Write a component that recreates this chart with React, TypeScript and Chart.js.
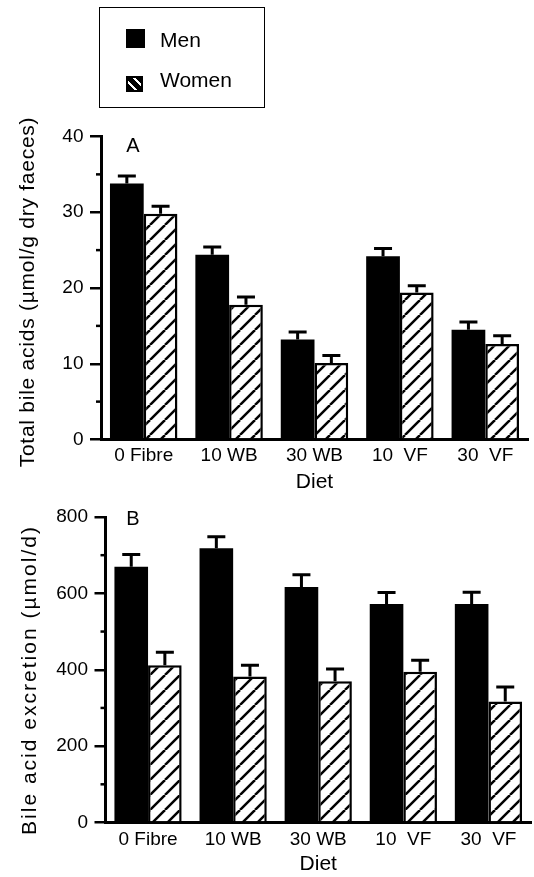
import React, { useEffect, useRef } from 'react';
import { Chart, registerables } from 'chart.js';

Chart.register(...registerables);

const FONT = '"Liberation Sans", Arial, Helvetica, sans-serif';

// ---- data ----
const dietLabels = ['0 Fibre', '10 WB', '30 WB', '10  VF', '30  VF'];

const menTotal = [33.8, 24.4, 13.2, 24.2, 14.5];
const menTotalSE = [1.0, 1.0, 1.0, 1.0, 1.0];
const womenTotal = [29.8, 17.8, 10.1, 19.4, 12.6];
const womenTotalSE = [1.0, 1.0, 1.0, 0.9, 1.1];
const totalTicks = [0, 10, 20, 30, 40];
const totalMinorTicks = [5, 15, 25, 35];

const menExcretion = [670, 718, 617, 572, 572];
const menExcretionSE = [32, 30, 32, 30, 31];
const womenExcretion = [412, 382, 370, 395, 317];
const womenExcretionSE = [34, 30, 32, 30, 38];
const excretionTicks = [0, 200, 400, 600, 800];
const excretionMinorTicks = [100, 300, 500, 700];

function makeHatch(ctx: CanvasRenderingContext2D): CanvasPattern | string {
  const s = 15;
  const c = document.createElement('canvas');
  c.width = s;
  c.height = s;
  const g = c.getContext('2d');
  if (!g) return '#fff';
  g.fillStyle = '#fff';
  g.fillRect(0, 0, s, s);
  g.strokeStyle = '#000';
  g.lineWidth = 2.5;
  for (const k of [-1, 0, 1]) {
    g.beginPath();
    g.moveTo(k * s, s);
    g.lineTo(k * s + s, 0);
    g.stroke();
  }
  return ctx.createPattern(c, 'repeat') || '#fff';
}

const errorBarPlugin = {
  id: 'errorBars',
  afterDatasetsDraw(chart: any) {
    const ctx = chart.ctx as CanvasRenderingContext2D;
    const yScale = chart.scales.y;
    chart.data.datasets.forEach((ds: any, i: number) => {
      const meta = chart.getDatasetMeta(i);
      const errs: number[] = ds.errors || [];
      meta.data.forEach((bar: any, j: number) => {
        const v = ds.data[j] as number;
        const top = yScale.getPixelForValue(v + errs[j]);
        ctx.save();
        ctx.strokeStyle = '#000';
        ctx.lineWidth = 3;
        ctx.beginPath();
        ctx.moveTo(bar.x, bar.y);
        ctx.lineTo(bar.x, top);
        ctx.moveTo(bar.x - 9, top);
        ctx.lineTo(bar.x + 9, top);
        ctx.stroke();
        ctx.restore();
      });
    });
  },
};

const decorPlugin = {
  id: 'decor',
  afterDraw(chart: any, _args: any, opts: any) {
    const ctx = chart.ctx as CanvasRenderingContext2D;
    const yScale = chart.scales.y;
    const left = chart.chartArea.left;
    ctx.save();
    // minor ticks
    ctx.strokeStyle = '#000';
    ctx.lineWidth = 2.5;
    (opts.minor || []).forEach((v: number) => {
      const py = yScale.getPixelForValue(v);
      ctx.beginPath();
      ctx.moveTo(left - 5, py);
      ctx.lineTo(left, py);
      ctx.stroke();
    });
    // panel letter
    ctx.fillStyle = '#000';
    ctx.font = `20px ${FONT}`;
    ctx.textAlign = 'center';
    ctx.textBaseline = 'middle';
    ctx.fillText(opts.letter, opts.letterX, opts.letterY);
    // y title
    ctx.font = `21px ${FONT}`;
    const w = ctx.measureText(opts.title).width;
    const ls = (opts.titleLength - w) / Math.max(1, opts.title.length - 1);
    const anyCtx = ctx as any;
    let sx = 1;
    if ('letterSpacing' in anyCtx) {
      anyCtx.letterSpacing = ls.toFixed(2) + 'px';
    } else {
      sx = opts.titleLength / w;
    }
    ctx.translate(opts.titleBaseX, opts.titleCenterY);
    ctx.rotate(-Math.PI / 2);
    ctx.scale(sx, 1);
    ctx.textAlign = 'center';
    ctx.textBaseline = 'alphabetic';
    ctx.fillText(opts.title, 0, 0);
    ctx.restore();
  },
};

interface PanelSpec {
  men: number[];
  menSE: number[];
  women: number[];
  womenSE: number[];
  ticks: number[];
  minor: number[];
  padTop: number;
  padRight: number;
  yWidth: number;
  xHeight: number;
  xTickPad: number;
  letter: string;
  letterX: number;
  letterY: number;
  title: string;
  titleBaseX: number;
  titleCenterY: number;
  titleLength: number;
}

function makeConfig(ctx: CanvasRenderingContext2D, p: PanelSpec): any {
  const hatch = makeHatch(ctx);
  return {
    type: 'bar',
    data: {
      labels: dietLabels,
      datasets: [
        {
          label: 'Men',
          data: p.men,
          errors: p.menSE,
          backgroundColor: '#000',
          borderWidth: 0,
        },
        {
          label: 'Women',
          data: p.women,
          errors: p.womenSE,
          backgroundColor: hatch,
          borderColor: '#000',
          borderWidth: 2.5,
        },
      ],
    },
    options: {
      animation: false,
      responsive: false,
      devicePixelRatio: 1,
      layout: { padding: { top: p.padTop, left: 0, right: p.padRight, bottom: 0 } },
      datasets: { bar: { categoryPercentage: 0.79, barPercentage: 1 } },
      plugins: {
        legend: { display: false },
        tooltip: { enabled: false },
        decor: {
          minor: p.minor,
          letter: p.letter,
          letterX: p.letterX,
          letterY: p.letterY,
          title: p.title,
          titleBaseX: p.titleBaseX,
          titleCenterY: p.titleCenterY,
          titleLength: p.titleLength,
        },
      },
      scales: {
        x: {
          offset: true,
          grid: { display: false, drawTicks: false, tickLength: 0 },
          border: { display: true, color: '#000', width: 3 },
          ticks: {
            color: '#000',
            font: { family: FONT, size: 19 },
            padding: p.xTickPad,
            maxRotation: 0,
            autoSkip: false,
          },
          title: {
            display: true,
            text: 'Diet',
            color: '#000',
            font: { family: FONT, size: 21 },
            padding: 0,
          },
          afterFit: (s: any) => {
            s.height = p.xHeight;
          },
        },
        y: {
          min: p.ticks[0],
          max: p.ticks[p.ticks.length - 1],
          afterBuildTicks: (s: any) => {
            s.ticks = p.ticks.map((v) => ({ value: v }));
          },
          grid: {
            drawOnChartArea: false,
            drawTicks: true,
            tickLength: 11,
            color: '#000',
            lineWidth: 2.5,
          },
          border: { display: true, color: '#000', width: 3 },
          ticks: {
            color: '#000',
            font: { family: FONT, size: 19 },
            padding: 6.5,
          },
          afterFit: (s: any) => {
            s.width = p.yWidth;
          },
        },
      },
    },
    plugins: [errorBarPlugin, decorPlugin],
  };
}

function Panel(props: { spec: PanelSpec; top: number; height: number }) {
  const ref = useRef<HTMLCanvasElement | null>(null);
  useEffect(() => {
    const canvas = ref.current;
    if (!canvas) return;
    const ctx = canvas.getContext('2d');
    if (!ctx) return;
    const chart = new Chart(canvas, makeConfig(ctx, props.spec));
    return () => chart.destroy();
  }, []);
  return (
    <canvas
      ref={ref}
      width={534}
      height={props.height}
      style={{ position: 'absolute', left: 0, top: props.top, width: 534, height: props.height }}
    />
  );
}

const panelA: PanelSpec = {
  men: menTotal,
  menSE: menTotalSE,
  women: womenTotal,
  womenSE: womenTotalSE,
  ticks: totalTicks,
  minor: totalMinorTicks,
  padTop: 136.5,
  padRight: 6,
  yWidth: 101,
  xHeight: 55.5,
  xTickPad: 4.5,
  letter: 'A',
  letterX: 133,
  letterY: 146,
  title: 'Total bile acids (µmol/g dry faeces)',
  titleBaseX: 33.5,
  titleCenterY: 292,
  titleLength: 350,
};

const panelB: PanelSpec = {
  men: menExcretion,
  menSE: menExcretionSE,
  women: womenExcretion,
  womenSE: womenExcretionSE,
  ticks: excretionTicks,
  minor: excretionMinorTicks,
  padTop: 22,
  padRight: 3,
  yWidth: 105.5,
  xHeight: 54.5,
  xTickPad: 6,
  letter: 'B',
  letterX: 133,
  letterY: 24,
  title: 'Bile acid excretion (µmol/d)',
  titleBaseX: 35.5,
  titleCenterY: 185,
  titleLength: 308,
};

export default function App() {
  const textStyle: React.CSSProperties = {
    position: 'absolute',
    left: 160,
    fontFamily: FONT,
    fontSize: 21,
    lineHeight: '21px',
    color: '#000',
    whiteSpace: 'nowrap',
  };
  return (
    <div style={{ position: 'absolute', left: 0, top: 0, width: 534, height: 877, background: '#fff', overflow: 'hidden' }}>
      <Panel spec={panelA} top={0} height={495} />
      <Panel spec={panelB} top={495} height={382} />
      <div
        style={{
          position: 'absolute',
          left: 99,
          top: 7,
          width: 166,
          height: 101,
          border: '1.5px solid #000',
          boxSizing: 'border-box',
        }}
      />
      <div style={{ position: 'absolute', left: 126, top: 29, width: 19, height: 19, background: '#000' }} />
      <span style={{ ...textStyle, top: 29 }}>Men</span>
      <div
        style={{
          position: 'absolute',
          left: 126,
          top: 76,
          width: 17,
          height: 16,
          background: 'repeating-linear-gradient(45deg, #000 0px, #000 4.5px, #fff 4.5px, #fff 7px)',
          border: '2px solid #000',
          boxSizing: 'border-box',
        }}
      />
      <span style={{ ...textStyle, top: 69 }}>Women</span>
    </div>
  );
}
